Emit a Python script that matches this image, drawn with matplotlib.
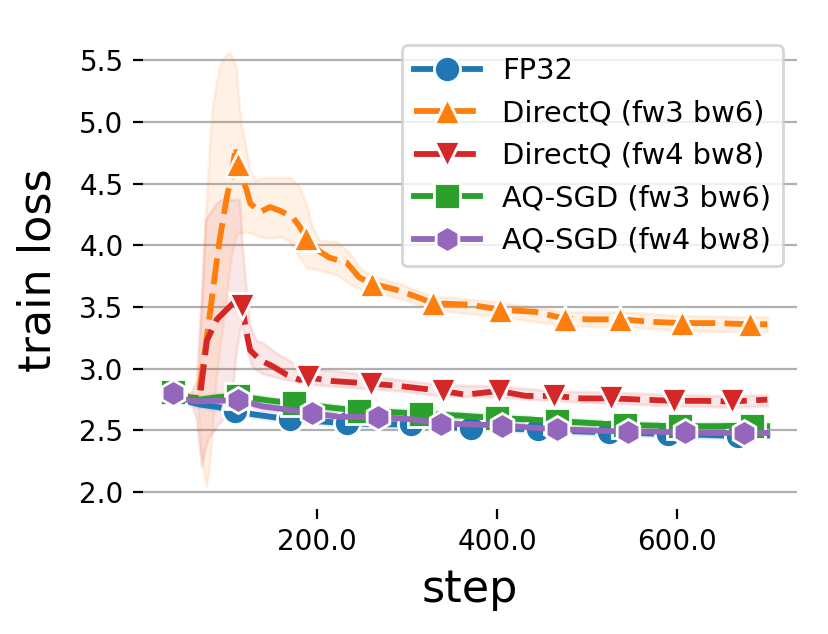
import numpy as np
import matplotlib
matplotlib.use("Agg")
import matplotlib.pyplot as plt

# ---------------- data ----------------
labels = ["FP32", "DirectQ (fw3 bw6)", "DirectQ (fw4 bw8)",
          "AQ-SGD (fw3 bw6)", "AQ-SGD (fw4 bw8)"]

fp32_x = [40, 55, 70, 90, 109, 130, 150, 170, 200, 234, 270, 304, 340, 371,
          410, 445, 485, 524, 560, 590, 630, 668, 700]
fp32_y = [2.80, 2.74, 2.71, 2.69, 2.66, 2.63, 2.61, 2.59, 2.575, 2.56, 2.55,
          2.55, 2.53, 2.52, 2.515, 2.51, 2.495, 2.485, 2.48, 2.47, 2.465,
          2.455, 2.46]
fp32_marks = [40, 109, 170, 234, 304, 371, 445, 524, 590, 668]

dq3_x = [40, 55, 68, 78, 87, 92, 100, 105, 110, 113, 118, 122, 126, 137, 148,
         159, 173, 181, 188, 203, 214, 233, 247, 261, 288, 310, 329, 369, 403,
         443, 476, 505, 537, 572, 605, 642, 681, 700]
dq3_y = [2.80, 2.77, 2.75, 3.26, 3.77, 4.04, 4.39, 4.55, 4.80, 4.66, 4.53,
         4.45, 4.34, 4.27, 4.31, 4.28, 4.23, 4.15, 4.06, 3.95, 3.90, 3.86,
         3.74, 3.69, 3.64, 3.585, 3.53, 3.52, 3.48, 3.46, 3.405, 3.40, 3.40,
         3.38, 3.37, 3.37, 3.36, 3.36]
dq3_marks = [40, 113, 188, 261, 329, 403, 476, 537, 605, 681]
dq3_band_x = [40, 60, 68, 72, 77, 80, 84, 88, 92, 95, 100, 103, 105, 110, 111,
              113, 116, 122, 126, 133, 144, 150, 160, 170, 173, 181, 188, 195,
              203, 222, 236, 250, 262, 292, 328, 402, 476, 537, 605, 681, 700]
dq3_lo = [2.78, 2.75, 2.70, 2.30, 2.05, 2.15, 2.50, 2.90, 3.15, 3.30, 3.60,
          3.78, 3.90, 4.07, 4.08, 4.10, 4.10, 4.11, 4.10, 4.08, 4.06, 4.06,
          4.07, 4.03, 3.99, 3.90, 3.82, 3.81, 3.80, 3.76, 3.69, 3.64, 3.62,
          3.57, 3.48, 3.42, 3.35, 3.34, 3.31, 3.30, 3.30]
dq3_hi = [2.82, 2.80, 2.80, 3.50, 4.31, 4.70, 5.12, 5.30, 5.45, 5.50, 5.55,
          5.56, 5.54, 5.45, 5.39, 5.20, 4.99, 4.77, 4.59, 4.53, 4.55, 4.55,
          4.55, 4.55, 4.53, 4.47, 4.34, 4.15, 4.04, 4.03, 3.94, 3.80, 3.75,
          3.69, 3.59, 3.54, 3.46, 3.46, 3.43, 3.42, 3.42]

dq4_x = [40, 55, 70, 78, 89, 100, 107, 112, 117, 122, 126, 137, 151, 167, 181,
         190, 218, 260, 292, 340, 365, 402, 432, 463, 494, 527, 561, 597, 631,
         661, 700]
dq4_y = [2.80, 2.77, 2.76, 3.23, 3.40, 3.48, 3.53, 3.58, 3.51, 3.29, 3.15,
         3.07, 3.02, 2.95, 2.91, 2.93, 2.90, 2.88, 2.86, 2.82, 2.79, 2.82,
         2.78, 2.78, 2.76, 2.76, 2.75, 2.74, 2.74, 2.735, 2.75]
dq4_marks = [40, 117, 190, 260, 340, 402, 463, 527, 597, 661]
dq4_band_x = [40, 60, 66, 72, 76, 80, 88, 90, 94, 100, 106, 110, 114, 116, 117,
              120, 125, 128, 133, 140, 155, 173, 199, 236, 292, 340, 402, 463,
              527, 597, 661, 700]
dq4_lo = [2.77, 2.74, 2.60, 2.21, 2.35, 2.45, 2.52, 2.55, 2.58, 2.62, 2.80,
          3.10, 3.30, 3.35, 3.35, 3.25, 3.08, 3.02, 2.99, 2.96, 2.93, 2.90,
          2.87, 2.85, 2.82, 2.78, 2.77, 2.74, 2.72, 2.70, 2.69, 2.70]
dq4_hi = [2.83, 2.80, 2.90, 3.60, 4.20, 4.25, 4.34, 4.35, 4.37, 4.37, 4.37,
          4.37, 4.37, 4.15, 4.00, 3.77, 3.37, 3.31, 3.23, 3.21, 3.13, 3.05,
          3.00, 2.97, 2.91, 2.87, 2.86, 2.82, 2.81, 2.79, 2.78, 2.79]

aq3_x = [40, 55, 70, 90, 112, 130, 150, 175, 210, 247, 280, 316, 360, 400,
         435, 467, 505, 542, 570, 603, 645, 683, 700]
aq3_y = [2.81, 2.77, 2.75, 2.77, 2.78, 2.76, 2.74, 2.72, 2.69, 2.66, 2.65,
         2.635, 2.62, 2.60, 2.59, 2.575, 2.56, 2.545, 2.54, 2.535, 2.535,
         2.54, 2.535]
aq3_marks = [40, 112, 175, 247, 316, 400, 467, 542, 603, 683]

aq4_x = [40, 55, 67, 85, 113, 140, 166, 195, 225, 268, 306, 338, 370, 406,
         435, 467, 505, 545, 575, 609, 640, 674, 700]
aq4_y = [2.80, 2.75, 2.735, 2.74, 2.745, 2.695, 2.67, 2.64, 2.61, 2.61, 2.59,
         2.555, 2.55, 2.54, 2.525, 2.51, 2.50, 2.49, 2.49, 2.485, 2.48, 2.48,
         2.48]
aq4_marks = [40, 113, 195, 268, 338, 406, 467, 545, 609, 674]

small_band = [0.025, 0.03, 0.03]  # half widths: FP32, AQ3, AQ4

xlabel = "step"
ylabel = "train loss"

# ---------------- plotting ----------------
colors = ["#1f77b4", "#ff7f0e", "#d62728", "#2ca02c", "#9467bd"]
markers = ["o", "^", "v", "s", "h"]
dashed = [False, True, True, False, False]

fig = plt.figure(figsize=(8.29 / 2, 6.34 / 2), dpi=200)
ax = fig.add_axes([143 / 829, 1 - 509 / 634, 654 / 829, 478 / 634])

series = [
    (fp32_x, fp32_y, fp32_marks),
    (dq3_x, dq3_y, dq3_marks),
    (dq4_x, dq4_y, dq4_marks),
    (aq3_x, aq3_y, aq3_marks),
    (aq4_x, aq4_y, aq4_marks),
]

bands = {
    1: (dq3_band_x, dq3_lo, dq3_hi),
    2: (dq4_band_x, dq4_lo, dq4_hi),
}
small_idx = {0: small_band[0], 3: small_band[1], 4: small_band[2]}
for i, (x, y, _) in enumerate(series):
    if i in bands:
        bx, lo, hi = bands[i]
        ax.fill_between(bx, lo, hi, color=colors[i], alpha=0.1, lw=1,
                        edgecolor=colors[i], zorder=1)
    else:
        h = small_idx[i]
        ya = np.asarray(y)
        ax.fill_between(x, ya - h, ya + h, color=colors[i], alpha=0.1, lw=1,
                        edgecolor=colors[i], zorder=1)

for i, (x, y, marks) in enumerate(series):
    idx = list(np.nonzero(np.isin(x, marks))[0])
    kw = dict(color=colors[i], marker=markers[i], ms=9.4, mec="white", mew=1,
              markevery=idx, lw=2.1, label=labels[i], zorder=2 + i)
    if dashed[i]:
        kw["dashes"] = (4.5, 1.6)
    ax.plot(x, y, **kw)

ax.set_xticks([200, 400, 600])
ax.xaxis.set_major_formatter(matplotlib.ticker.FormatStrFormatter("%.1f"))
ax.set_xlim(7, 733)
ax.set_ylim(1.864, 5.736)
ax.set_yticks([2.0, 2.5, 3.0, 3.5, 4.0, 4.5, 5.0, 5.5])
ax.yaxis.grid(True, color="#b0b0b0", lw=0.8)
ax.set_axisbelow(True)
for s in ax.spines.values():
    s.set_visible(False)
ax.tick_params(labelsize=10)
ax.set_xlabel(xlabel, fontsize=16)
ax.set_ylabel(ylabel, fontsize=16, labelpad=7)

ax.legend(loc="upper right", fontsize=10.4, handlelength=2.3,
          handletextpad=0.75)

fig.savefig("out.png", dpi=200)
